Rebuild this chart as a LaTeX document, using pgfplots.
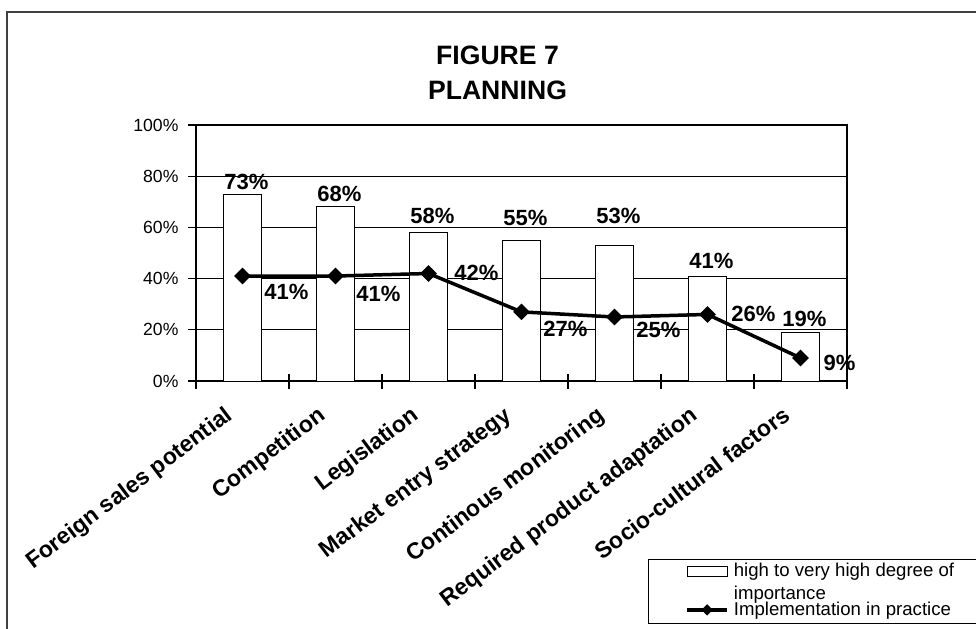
\documentclass[border=0pt]{standalone}
\usepackage{fontspec}
\setmainfont{Liberation Sans}
\usepackage{pgfplots}
\pgfplotsset{compat=1.18}
\usepackage{pgfplotstable}

% x: category index, imp: importance (%), bdy: label lift above bar (pt)
% prac: implementation (%), lx/ly: label offset from marker (pt)
\pgfplotstableread{
x imp bdy   prac lx   ly
0 73  6.25  41   22   -8
1 68  6.25  41   21.5 -9
2 58  8.25  42   24   0.5
3 55  11.25 27   22   -8.5
4 53  14.75 25   22   -6.5
5 41  7.75  26   23   0.5
6 19  6.75  9    19.5 -2.5
}\planning

\pgfplotsset{
  barkey/.style={legend image code/.code={\draw[fill=white, draw=black, line width=0.6pt] (0pt,0pt) rectangle (20pt,5pt);}},
  linekey/.style={legend image code/.code={\draw[black, line width=1.75pt, mark=square*, mark size=1.8pt,
    mark options={rotate=45, line width=0.4pt}, mark repeat=2, mark phase=2]
    plot coordinates {(0pt,3pt) (10pt,3pt) (20pt,3pt)};}},
}

\begin{document}
\begin{tikzpicture}
\useasboundingbox (0pt,0pt) rectangle (488pt,314pt);
\clip (0pt,0pt) rectangle (488pt,314pt);
% chart frame
\draw[line width=0.8pt, black!75] (3.5pt,-20pt) -- (3.5pt,308pt) -- (520pt,308pt);
% title
\node[font=\fontsize{13.3}{16}\selectfont\bfseries] at (248.75pt,286.5pt) {FIGURE 7};
\node[font=\fontsize{13.3}{16}\selectfont\bfseries] at (248.75pt,269pt) {PLANNING};
\begin{axis}[
  at={(98pt,123.5pt)}, anchor=south west, scale only axis,
  width=325.5pt, height=128pt,
  clip=false,
  xmin=-0.5, xmax=6.5, ymin=0, ymax=100,
  xtick={-0.5,0.5,...,6.5}, x tick label as interval,
  xticklabels={Foreign sales potential, Competition, Legislation, Market entry strategy, Continous monitoring, Required product adaptation, Socio-cultural factors},
  x tick label style={xshift=-9.5pt, yshift=-8pt, rotate=37, anchor=north east, inner sep=0pt,
    font=\fontsize{11.5}{13}\selectfont\bfseries},
  ytick={0,20,...,100},
  yticklabel={\pgfmathprintnumber{\tick}\%},
  y tick label style={xshift=-1.5pt, font=\fontsize{8.8}{10}\selectfont},
  /pgf/number format/assume math mode=true,
  xtick pos=bottom, ytick pos=left,
  tick align=center, major tick length=7.5pt,
  tick style={black, line width=0.6pt},
  ymajorgrids, grid style={black, line width=0.5pt},
  axis line style={black, line width=0.7pt},
  legend style={at={(axis description cs:0.694,-0.695)}, anchor=north west,
    draw=black, line width=0.6pt, fill=white,
    inner xsep=18.5pt, inner ysep=1.8pt, row sep=-0.6pt,
    column sep=2.5pt,
    font=\fontsize{9.3}{11.6}\selectfont,
    nodes={inner sep=0pt, text depth=},
    cells={anchor=base west}},
]
\addplot[ybar, bar width=19pt, fill=white, draw=black, line width=0.5pt,
  point meta=explicit,
  nodes near coords={\pgfmathprintnumber{\pgfplotspointmeta}\%},
  visualization depends on={\thisrow{bdy} \as \bdy},
  every node near coord/.append style={anchor=center, xshift=2pt, yshift=\bdy*1pt,
    font=\fontsize{11}{13}\selectfont\bfseries, black},
  barkey]
  table[x=x, y=imp, meta=imp] {\planning};
\addlegendentry{\parbox[t]{118pt}{\raggedright high to very high degree of\\importance}}
\addplot[black, line width=1.75pt, mark=square*, mark size=2.7pt,
  mark options={rotate=45, line width=0.5pt},
  point meta=explicit,
  nodes near coords={\pgfmathprintnumber{\pgfplotspointmeta}\%},
  visualization depends on={\thisrow{lx} \as \lx},
  visualization depends on={\thisrow{ly} \as \ly},
  every node near coord/.append style={anchor=center, xshift=\lx*1pt, yshift=\ly*1pt,
    font=\fontsize{11}{13}\selectfont\bfseries, black},
  linekey]
  table[x=x, y=prac, meta=prac] {\planning};
\addlegendentry{\parbox[t]{118pt}{Implementation in practice}}
\end{axis}
\end{tikzpicture}
\end{document}
